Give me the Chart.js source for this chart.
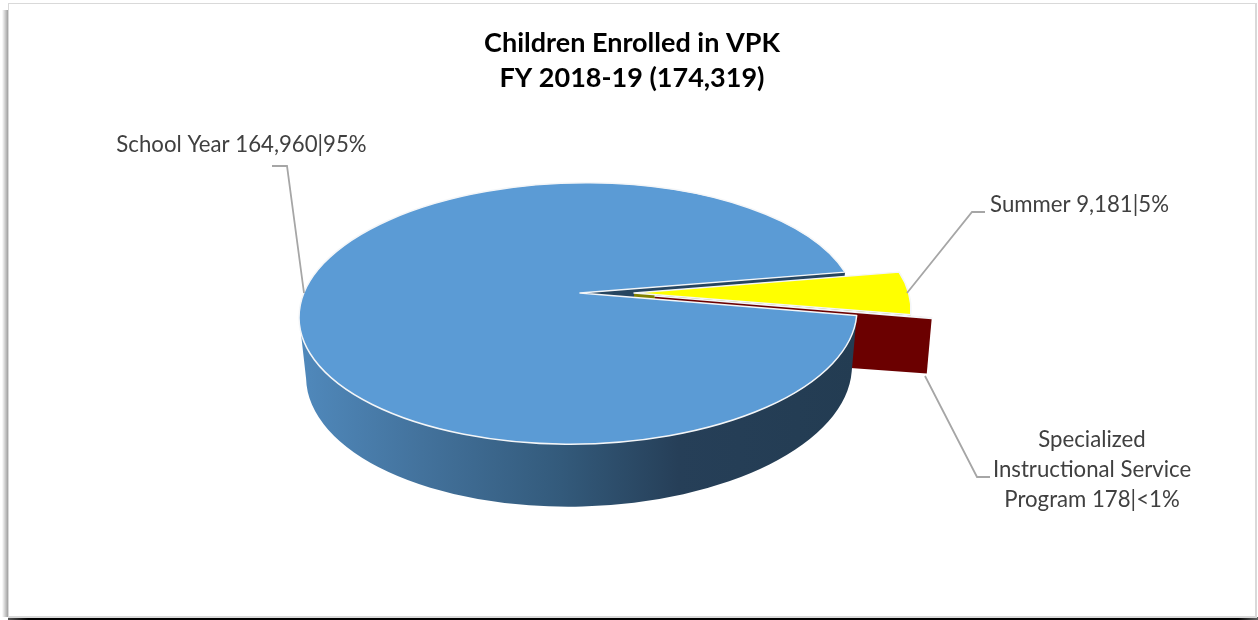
<!DOCTYPE html>
<html>
<head>
<meta charset="utf-8">
<title>Children Enrolled in VPK</title>
<script src="https://cdn.jsdelivr.net/npm/chart.js@4"></script>
<style>
    html, body { margin: 0; padding: 0; background: #fff; overflow: hidden; }
    #wrap { position: relative; width: 1258px; height: 620px; }
    #shadow-left { position: absolute; left: 2px; top: 10px; width: 7px; bottom: 3px; background: linear-gradient(to right, #fff, #8f8f8f); }
    #shadow-bottom { position: absolute; left: 8px; right: 0; bottom: 0; height: 3px; background: linear-gradient(to right, #555 0, #000 20px, #000 calc(100% - 20px), #666 100%); }
    #frame { position: absolute; left: 8px; top: 3px; width: 1246px; height: 612px; border: 1px solid #d9d9d9; border-right-width: 2px; border-bottom-width: 2px; background: #fff; }
    canvas { position: absolute; left: 0; top: 0; }
</style>
</head>
<body>
<div id="wrap">
    <div id="shadow-left"></div>
    <div id="shadow-bottom"></div>
    <div id="frame"></div>
    <canvas id="vpk-chart" width="1258" height="620"></canvas>
</div>
<script>
const titleLines = ['Children Enrolled in VPK', 'FY 2018-19 (174,319)'];
const categories = ['School Year', 'Summer', 'Specialized Instructional Service Program'];
const enrolled = [164960, 9181, 178];
const shareLabels = ['95%', '5%', '<1%'];

const sliceColors = ['#5b9bd5', '#ffff00', '#6b0000'];
const faceColors = ['#264560', '#808000', '#6b0000'];

// a point on an ellipse tilted by the given angle
function onEllipse(cx, cy, rx, ry, tilt, a) {
    const x = rx * Math.cos(a), y = ry * Math.sin(a);
    return [cx + x * Math.cos(tilt) - y * Math.sin(tilt), cy + x * Math.sin(tilt) + y * Math.cos(tilt)];
}

// fake 3D pie: angles come from the arc elements, only the projection is done here
const pie3d = {
    id: 'pie3d',
    beforeDatasetDraw(chart, args, opts) {
        const ctx = chart.ctx;
        const arcs = chart.getDatasetMeta(0).data;
        const tilt = opts.tiltDeg * Math.PI / 180;
        const lowTilt = opts.lowTiltDeg * Math.PI / 180;

        // top ellipse, bottom ellipse and the pie tip for one slice
        const geo = arcs.map((arc, i) => {
            const [sx, sy] = opts.shift[i];
            const cx = opts.centerX + sx, cy = opts.centerY + sy;
            const rx = arc.outerRadius, ry = rx * opts.squash;
            return {
                arc, cx, cy, rx, ry,
                tip: [cx + opts.tipX, cy + opts.tipY],
                top: a => onEllipse(cx, cy, rx, ry, tilt, a),
                low: a => onEllipse(cx + opts.lowX, cy + opts.depth, opts.lowRx, opts.lowRy, lowTilt, a)
            };
        });

        const face = (g, a, color) => {
            const p = g.top(a), q = g.low(a);
            ctx.beginPath();
            ctx.moveTo(g.tip[0], g.tip[1]);
            ctx.lineTo(p[0], p[1]);
            ctx.lineTo(q[0], q[1]);
            ctx.lineTo(g.tip[0] + opts.lowX, g.tip[1] + opts.depth);
            ctx.closePath();
            ctx.fillStyle = color;
            ctx.fill();
        };

        const wedge = g => {
            ctx.beginPath();
            ctx.moveTo(g.tip[0], g.tip[1]);
            ctx.ellipse(g.cx, g.cy, g.rx, g.ry, tilt, g.arc.startAngle, g.arc.endAngle);
            ctx.closePath();
            ctx.fillStyle = g.arc.options.backgroundColor;
            ctx.fill();
            ctx.strokeStyle = '#f4f6f8';
            ctx.lineWidth = 1.5;
            ctx.stroke();
        };

        const [blue, yellow, red] = geo;

        ctx.save();
        ctx.lineJoin = 'round';

        // radial faces seen through the gap, back to front
        face(blue, blue.arc.endAngle, faceColors[0]);
        face(yellow, yellow.arc.endAngle, faceColors[1]);
        face(red, red.arc.startAngle, faceColors[2]);

        // outer wall of the big slice
        const wallEnd = Math.PI * opts.wallEndDeg / 180;
        const grad = ctx.createLinearGradient(blue.cx - blue.rx, 0, blue.cx + blue.rx, 0);
        opts.wallStops.forEach(s => grad.addColorStop(s[0], s[1]));
        const leftLow = blue.low(Math.PI), rightLow = blue.low(blue.arc.startAngle);
        ctx.beginPath();
        ctx.ellipse(blue.cx, blue.cy, blue.rx, blue.ry, tilt, blue.arc.startAngle, wallEnd);
        ctx.lineTo(leftLow[0], leftLow[1]);
        ctx.ellipse(blue.cx + opts.lowX, blue.cy + opts.depth, opts.lowRx, opts.lowRy, lowTilt, Math.PI, blue.arc.startAngle, true);
        ctx.lineTo(rightLow[0], rightLow[1]);
        ctx.closePath();
        ctx.fillStyle = grad;
        ctx.fill();

        wedge(blue);
        wedge(red);
        wedge(yellow);
        ctx.restore();
        return false;
    },
    afterDraw(chart, args, opts) {
        const ctx = chart.ctx;
        ctx.save();

        // leader lines
        ctx.strokeStyle = '#a6a6a6';
        ctx.lineWidth = 1.8;
        opts.leaders.forEach(points => {
            ctx.beginPath();
            points.forEach((p, i) => i ? ctx.lineTo(p[0], p[1]) : ctx.moveTo(p[0], p[1]));
            ctx.stroke();
        });

        // data labels
        ctx.font = opts.labelFont;
        ctx.fillStyle = '#404040';
        ctx.textAlign = 'center';
        ctx.textBaseline = 'middle';
        categories.forEach((name, i) => {
            const text = `${name} ${enrolled[i].toLocaleString('en-US')}|${shareLabels[i]}`;
            const lines = [];
            text.split(' ').forEach(word => {
                const last = lines[lines.length - 1];
                if (last !== undefined && ctx.measureText(last + ' ' + word).width <= opts.labelWidth[i]) {
                    lines[lines.length - 1] = last + ' ' + word;
                } else {
                    lines.push(word);
                }
            });
            lines.forEach((line, n) => {
                ctx.fillText(line, opts.labelX[i], opts.labelY[i] + n * opts.lineHeight);
            });
        });
        ctx.restore();
    }
};

const vpkChart = new Chart(document.getElementById('vpk-chart'), {
    type: 'pie',
    data: {
        labels: categories,
        datasets: [{
            data: enrolled,
            backgroundColor: sliceColors,
            borderWidth: 0,
            radius: 279
        }]
    },
    options: {
        responsive: false,
        animation: false,
        rotation: 93,
        layout: { padding: { left: 6 } },
        plugins: {
            legend: { display: false },
            tooltip: { enabled: false },
            title: {
                display: true,
                text: titleLines,
                color: '#000',
                font: { family: 'Lato', size: 27, weight: 'bold', lineHeight: 1.3 },
                padding: { top: 26, bottom: 10 }
            },
            pie3d: {
                centerX: 578,
                centerY: 313.5,
                squash: 0.468,
                tiltDeg: -1,
                tipX: 2,
                tipY: -20.5,
                shift: [[0, 0], [54, 0], [75, 3]],
                depth: 58,
                lowX: 1,
                lowRx: 273,
                lowRy: 135,
                lowTiltDeg: -1.5,
                wallEndDeg: 174,
                wallStops: [[0, '#5089bc'], [0.22, '#43729c'], [0.47, '#335a7b'], [0.68, '#263f58'], [1, '#233c52']],
                leaders: [
                    [[272, 166], [287, 166], [304, 293]],
                    [[985, 212], [972, 212], [907, 293]],
                    [[925, 376], [977, 477], [990, 477]]
                ],
                labelFont: '22.2px Lato',
                labelWidth: [400, 400, 210],
                labelX: [241.5, 1079.5, 1092],
                labelY: [145, 205, 440],
                lineHeight: 30
            }
        }
    },
    plugins: [pie3d]
});
</script>
</body>
</html>
